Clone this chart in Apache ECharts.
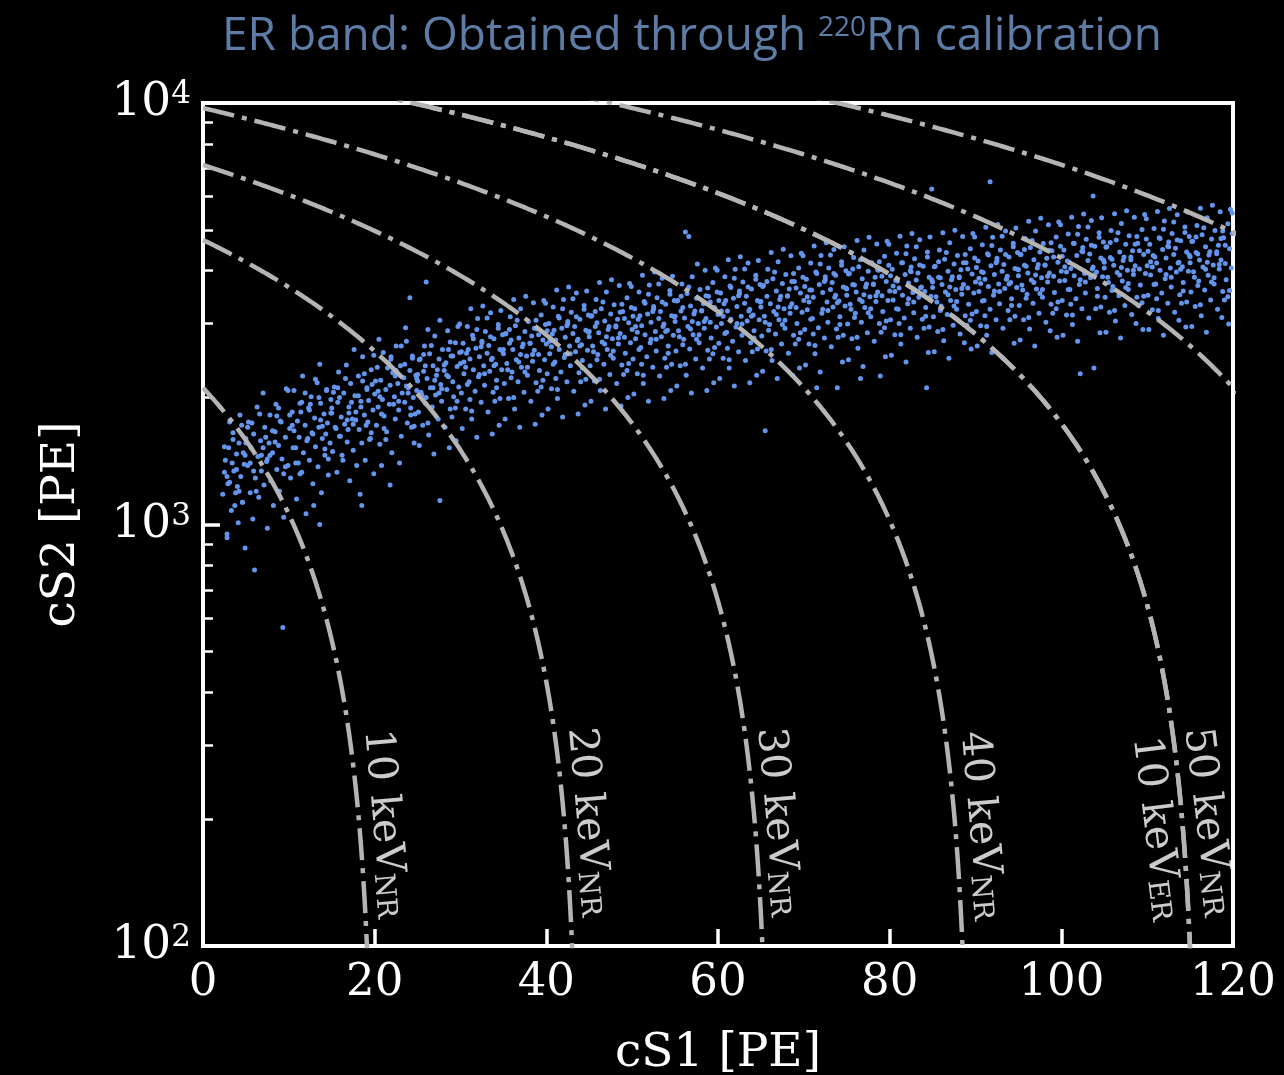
<!DOCTYPE html>
<html><head><meta charset="utf-8">
<script src="https://cdn.jsdelivr.net/npm/echarts@6/dist/echarts.min.js"></script>
<style>html,body{margin:0;padding:0;background:#000;} #chart{width:1284px;height:1075px;}</style>
</head><body><div id="chart"></div>
<script>
// ---------------- data ----------------
const xTicks = [0, 20, 40, 60, 80, 100, 120];
const yMajorTicks = [100, 1000, 10000];
const yMinorTicks = [200, 300, 400, 500, 600, 700, 800, 900, 2000, 3000, 4000, 5000, 6000, 7000, 8000, 9000];

// constant-energy contours: straight lines cS2 = s2Int * (1 - cS1 / s1Int)
const contourNames = ['10 keV NR', '20 keV NR', '30 keV NR', '40 keV NR', '50 keV NR', '10 keV ER', 'contour 7', 'contour 8'];
const contourS2Intercepts = [2110, 4732, 7130, 9731, 12667, 12667, 15169, 18114];
const contourS1Intercepts = [20.05, 43.93, 66.1, 89.4, 115.9, 115.9, 139.4, 165.0];

const contourLabelText = ['10 keV', '20 keV', '30 keV', '40 keV', '10 keV', '50 keV'];
const contourLabelSub = ['NR', 'NR', 'NR', 'NR', 'ER', 'NR'];
const contourLabelS1 = [21.1, 44.85, 66.9, 90.6, 111.0, 117.0];
const contourLabelS2 = [195, 197, 197, 193, 190, 197];

// ER band events (cS1 [PE], cS2 [PE])
const erBandA = [
[2.3,1180],[2.6,1420],[2.8,950],[3.0,1520],[3.1,1260],[3.3,1080],[3.5,1650],[3.6,1340],[3.8,1190],[3.9,1470],[4.1,1010],[4.2,1560],[4.4,1300],[4.5,1720],[4.6,1130],[4.8,1390],[4.9,880],[5.0,1600],[2.9,1250],[3.4,1400],[4.0,1230],[4.7,1480],[2.5,1330],[3.7,1110],[4.3,1820],[2.8,930],
[5.2,1380],[5.3,1750],[5.5,1190],[5.6,1520],[5.8,1030],[5.9,1640],[6.0,780],[6.1,1290],[6.3,1900],[6.4,1450],[6.5,1160],[6.7,1580],[6.8,1340],[7.0,2050],[7.1,1240],[7.2,1700],[7.4,1410],[7.5,980],[7.7,1560],[7.8,1820],[7.9,1270],[8.1,1480],[8.2,1110],[8.4,1660],[8.5,1930],[8.6,1350],[8.8,1540],[8.9,1200],[9.0,1760],[9.2,1430],[9.3,570],[9.4,1040],[9.6,1610],[9.7,2100],[9.9,1380],
[10.1,1690],[10.2,1290],[10.4,1850],[10.5,1520],[10.6,2080],[10.8,1400],[10.9,1150],[11.0,1760],[11.2,1610],[11.3,1940],[11.5,1330],[11.6,2250],[11.7,1480],[11.9,1720],[12.0,1060],[12.1,1580],[12.3,1890],[12.4,1420],[12.6,2010],[12.7,1650],[12.8,1250],[13.0,1790],[13.1,1530],[13.3,2170],[13.4,1370],[13.5,1700],[13.7,1940],[13.8,1190],[13.9,1600],[14.1,1830],[14.2,1460],[14.4,2080],[14.5,1740],[14.6,1310],[14.8,1560],[14.9,1980],[11.4,1850],[12.9,1110],[13.6,2400],[14.3,1640],[13.6,1000],
[15.0,1840],[15.1,1490],[15.3,2120],[15.4,1700],[15.6,1330],[15.7,1950],[15.8,2300],[16.0,1620],[16.1,1800],[16.3,1420],[16.4,2050],[16.5,1730],[16.7,2390],[16.8,1570],[17.0,1900],[17.1,1270],[17.2,2160],[17.4,1780],[17.5,1500],[17.7,2020],[17.8,1850],[17.9,1380],[18.1,2250],[18.2,1680],[18.4,1960],[18.5,1560],[18.6,2500],[18.8,1820],[18.9,1420],[19.1,2090],[19.2,1750],[19.3,1970],[19.5,1600],[19.6,2330],[19.8,1870],[19.9,1320],[15.9,2000],[16.9,1680],[17.6,2600],[18.3,1180],[19.0,1720],[19.7,2150],[18.5,1110],
[20.0,2040],[20.2,1720],[20.3,2360],[20.4,1900],[20.6,1550],[20.7,2200],[20.9,1980],[21.0,2560],[21.1,1810],[21.3,2090],[21.4,1660],[21.6,2420],[21.7,1930],[21.8,2140],[22.0,1480],[22.1,2290],[22.3,2010],[22.4,1780],[22.5,2650],[22.7,2160],[22.8,1870],[23.0,2380],[23.1,1620],[23.2,2050],[23.4,2230],[23.5,1950],[23.7,2720],[23.8,1740],[23.9,2110],[24.1,2320],[24.2,1890],[24.4,2480],[24.5,2000],[24.6,1560],[24.8,2260],[24.9,2080],[20.8,1380],[21.9,2500],[22.9,1400],[23.6,2930],[24.3,1700],[20.5,2750],[22.2,2300],[24.7,1830],[24.1,3450],[21.8,1240],
[25.0,2190],[25.1,1850],[25.3,2470],[25.4,2060],[25.6,1720],[25.7,2310],[25.8,2650],[26.0,2000],[26.1,2220],[26.3,1630],[26.4,2540],[26.5,2110],[26.7,1900],[26.8,2380],[27.0,2800],[27.1,2030],[27.2,2260],[27.4,1780],[27.5,2470],[27.7,2150],[27.8,1960],[27.9,2600],[28.1,2320],[28.2,1700],[28.4,2090],[28.5,2880],[28.6,2240],[28.8,1880],[28.9,2510],[29.1,2180],[29.2,2010],[29.4,2700],[29.5,1580],[29.6,2370],[29.8,2120],[29.9,2560],[25.2,1540],[26.2,2900],[26.9,1470],[27.6,3050],[28.3,2420],[29.0,1800],[29.7,2950],[25.9,2380],[28.7,1520],[26.0,3760],[27.6,1140],
[30.0,2410],[30.1,2050],[30.3,2690],[30.4,2280],[30.6,1880],[30.7,2550],[30.8,2950],[31.0,2180],[31.1,2470],[31.3,1780],[31.4,2810],[31.5,2330],[31.7,2070],[31.8,2620],[32.0,3080],[32.1,2240],[32.2,2500],[32.4,1950],[32.5,2720],[32.7,2380],[32.8,2140],[32.9,2870],[33.1,2550],[33.2,1850],[33.4,2310],[33.5,3180],[33.6,2460],[33.8,2060],[33.9,2760],[34.1,2400],[34.2,2200],[34.4,2980],[34.5,1720],[34.6,2600],[34.8,2330],[34.9,2820],[30.2,1690],[31.2,3250],[31.9,1610],[32.6,3300],[33.3,2660],[34.0,1960],[34.7,3220],[30.9,2600],[33.7,1640],
[35.0,2540],[35.1,2160],[35.3,2840],[35.4,2410],[35.6,1990],[35.7,2690],[35.8,3110],[36.0,2300],[36.1,2600],[36.3,1880],[36.4,2960],[36.5,2460],[36.7,2180],[36.8,2770],[37.0,3250],[37.1,2360],[37.2,2640],[37.4,2060],[37.5,2870],[37.7,2510],[37.8,2260],[37.9,3030],[38.1,2690],[38.2,1960],[38.4,2440],[38.5,3360],[38.6,2590],[38.8,2170],[38.9,2910],[39.1,2530],[39.2,2320],[39.4,3140],[39.5,1820],[39.6,2740],[39.8,2460],[39.9,2980],[35.2,1780],[36.2,3420],[36.9,1700],[37.6,3480],[38.3,2800],[39.0,2070],[39.7,3400],[35.9,2740],[38.7,1730],
[40.0,2680],[40.1,2280],[40.3,3000],[40.4,2540],[40.6,2100],[40.7,2830],[40.8,3280],[41.0,2430],[41.1,2740],[41.3,1990],[41.4,3120],[41.5,2600],[41.7,2300],[41.8,2920],[42.0,3420],[42.1,2490],[42.2,2780],[42.4,2180],[42.5,3030],[42.7,2650],[42.8,2380],[42.9,3190],[43.1,2840],[43.2,2070],[43.4,2570],[43.5,3540],[43.6,2730],[43.8,2290],[43.9,3070],[44.1,2670],[44.2,2450],[44.4,3310],[44.5,1920],[44.6,2890],[44.8,2590],[44.9,3140],[40.2,1880],[41.2,3600],[41.9,1800],[42.6,3660],[43.3,2950],[44.0,2180],[44.7,3580],[40.9,2890],[43.7,1830],
[45.0,2790],[45.1,2380],[45.3,3130],[45.4,2650],[45.6,2190],[45.7,2950],[45.8,3420],[46.0,2530],[46.1,2850],[46.3,2080],[46.4,3250],[46.5,2710],[46.7,2400],[46.8,3040],[47.0,3560],[47.1,2600],[47.2,2900],[47.4,2270],[47.5,3160],[47.7,2760],[47.8,2480],[47.9,3320],[48.1,2960],[48.2,2160],[48.4,2680],[48.5,3690],[48.6,2840],[48.8,2390],[48.9,3200],[49.1,2780],[49.2,2550],[49.4,3450],[49.5,2000],[49.6,3010],[49.8,2700],[49.9,3270],[45.2,1960],[46.2,3750],[46.9,1880],[47.6,3810],[48.3,3070],[49.0,2270],[49.7,3730],[45.9,3010],[48.7,1910],
[50.0,2900],[50.1,2470],[50.3,3250],[50.4,2760],[50.6,2280],[50.7,3070],[50.8,3560],[51.0,2630],[51.1,2960],[51.3,2160],[51.4,3380],[51.5,2820],[51.7,2500],[51.8,3160],[52.0,3700],[52.1,2700],[52.2,3020],[52.4,2360],[52.5,3290],[52.7,2870],[52.8,2580],[52.9,3450],[53.1,3080],[53.2,2250],[53.4,2790],[53.5,3840],[53.6,2950],[53.8,2480],[53.9,3330],[54.1,2890],[54.2,2650],[54.4,3590],[54.5,2080],[54.6,3130],[54.8,2810],[54.9,3400],[50.2,2040],[51.2,3900],[51.9,1960],[52.6,3970],[53.3,3200],[54.0,2360],[54.7,3880],[50.9,3130],[53.7,1990],
[55.0,3030],[55.1,2580],[55.3,3400],[55.4,2880],[55.6,2380],[55.7,3210],[55.8,3720],[56.0,2750],[56.1,3090],[56.2,4940],[56.3,2260],[56.4,3530],[56.5,2950],[56.7,2610],[56.8,3300],[57.0,3870],[57.1,2820],[57.2,3160],[57.4,2470],[57.5,3440],[57.7,3000],[57.8,2700],[57.9,3610],[58.1,3220],[58.2,2350],[58.4,2920],[58.5,4010],[58.6,3080],[58.8,2590],[58.9,3480],[59.1,3020],[59.2,2770],[59.4,3750],[59.5,2170],[59.6,3270],[59.8,2940],[59.9,3560],[55.2,2130],[56.6,4820],[56.9,2050],[57.6,4150],[58.3,3340],[59.0,2470],[59.7,4060],[55.9,3270],[58.7,2080],
[60.0,3150],[60.1,2690],[60.3,3540],[60.4,3000],[60.6,2480],[60.7,3340],[60.8,3870],[61.0,2860],[61.1,3210],[61.3,2350],[61.4,3680],[61.5,3070],[61.7,2720],[61.8,3440],[62.0,4030],[62.1,2940],[62.2,3290],[62.4,2570],[62.5,3580],[62.7,3120],[62.8,2810],[62.9,3760],[63.1,3350],[63.2,2450],[63.4,3040],[63.5,4170],[63.6,3210],[63.8,2700],[63.9,3620],[64.1,3140],[64.2,2880],[64.4,3900],[64.5,2260],[64.6,3400],[64.8,3060],[64.9,3710],[60.2,2220],[61.2,4250],[61.9,2130],[62.6,4320],[63.3,3480],[64.0,2570],[64.7,4230],[60.9,3400],[63.7,2170],
[65.0,3280],[65.1,2800],[65.3,3690],[65.4,3120],[65.6,2580],[65.7,3480],[65.8,4030],[66.0,2980],[66.1,3340],[66.3,2450],[66.4,3830],[66.5,3200],[66.7,2830],[66.8,3580],[67.0,4200],[67.1,3060],[67.2,3420],[67.4,2680],[67.5,3730],[67.7,3250],[67.8,2920],[67.9,3920],[68.1,3490],[68.2,2550],[68.4,3170],[68.5,4340],[68.6,3340],[68.8,2810],[68.9,3770],[69.1,3270],[69.2,3000],[69.4,4060],[69.5,2350],[69.6,3540],[69.8,3190],[69.9,3860],[65.2,2310],[66.2,4420],[66.9,2220],[67.6,4500],[68.3,3620],[69.0,2680],[69.7,4400],[65.5,1670],[68.7,2260],
[70.0,3400],[70.1,2900],[70.3,3820],[70.4,3230],[70.6,2680],[70.7,3600],[70.8,4170],[71.0,3080],[71.1,3460],[71.3,2540],[71.4,3970],[71.5,2110],[71.7,2930],[71.8,3710],[72.0,4350],[72.1,3170],[72.2,3550],[72.4,2770],[72.5,3870],[72.7,3370],[72.8,3020],[72.9,4060],[73.1,3610],[73.2,2640],[73.4,3280],[73.5,4490],[73.6,3460],[73.8,2910],[73.9,2110],[74.1,3390],[74.2,3110],[74.4,4200],[74.5,2430],[74.6,3660],[74.8,3300],[74.9,4000],[70.2,2390],[71.2,4580],[71.9,2300],[72.6,4660],[73.3,3750],[74.0,2780],[74.7,4560],[70.9,3600],[73.7,3900],
[75.0,3500],[75.1,2990],[75.3,3940],[75.4,3330],[75.6,2760],[75.7,3710],[75.8,4300],[76.0,3170],[76.1,3560],[76.3,2620],[76.4,4090],[76.5,3420],[76.7,3020],[76.8,3830],[77.0,4480],[77.1,3270],[77.2,3660],[77.4,2850],[77.5,3990],[77.7,3470],[77.8,3110],[77.9,4180],[78.1,3720],[78.2,2720],[78.4,3380],[78.5,4630],[78.6,3560],[78.8,3000],[78.9,2250],[79.1,3490],[79.2,3200],[79.4,4330],[79.5,2500],[79.6,3770],[79.8,3400],[79.9,4120],[75.2,2460],[76.2,4720],[76.9,2370],[77.6,4800],[78.3,3860],[79.0,2860],[79.7,4700],[75.9,3700],[78.7,4010],[76.6,2220],
[80.0,3580],[80.1,3060],[80.3,4030],[80.4,3410],[80.6,2820],[80.7,3790],[80.8,4400],[81.0,3240],[81.1,3640],[81.3,2680],[81.4,4180],[81.5,3500],[81.7,3090],[81.8,3920],[82.0,4580],[82.1,3340],[82.2,3740],[82.4,2920],[82.5,4080],[82.7,3550],[82.8,3180],[82.9,4270],[83.1,3800],[83.2,2780],[83.4,3460],[83.5,4740],[83.6,3640],[83.8,3070],[83.9,4100],[84.1,3570],[84.2,3270],[84.4,4430],[84.5,2560],[84.6,3860],[84.8,3480],[84.9,6250],[80.2,2520],[81.2,4830],[81.9,2430],[82.6,4900],[83.3,3950],[84.0,2920],[84.7,4810],[80.9,3780],[84.3,2110],
[85.0,3650],[85.1,3110],[85.3,4100],[85.4,3470],[85.6,2870],[85.7,3860],[85.8,4480],[86.0,3300],[86.1,3710],[86.3,2730],[86.4,4260],[86.5,3560],[86.7,3150],[86.8,3990],[87.0,4660],[87.1,3400],[87.2,3810],[87.4,2970],[87.5,4150],[87.7,3610],[87.8,3240],[87.9,4350],[88.1,3870],[88.2,2830],[88.4,3520],[88.5,4820],[88.6,3710],[88.8,3130],[88.9,4180],[89.1,3640],[89.2,3330],[89.4,4510],[89.5,2610],[89.6,3930],[89.8,3540],[89.9,4290],[85.2,2570],[86.2,4920],[86.9,2480],[87.6,4990],[88.3,4020],[89.0,2970],[89.7,4900],[85.9,3850],[88.7,2700],
[90.0,3760],[90.1,3200],[90.3,4220],[90.4,3570],[90.6,2960],[90.7,3980],[90.8,4610],[91.0,3400],[91.1,3820],[91.3,2810],[91.4,4390],[91.5,3670],[91.7,3240],[91.8,4110],[92.0,4800],[92.1,3500],[92.2,3920],[92.4,3060],[92.5,4280],[92.7,3720],[92.8,3340],[92.9,4480],[93.1,3990],[93.2,2920],[93.4,3630],[93.5,4970],[93.6,3820],[93.8,3220],[93.9,4310],[94.1,3750],[94.2,3430],[94.4,4650],[94.5,2690],[94.6,4050],[94.8,3650],[94.9,4420],[90.2,2650],[91.2,5070],[91.7,6500],[91.9,2560],[92.6,5150],[93.3,4140],[94.0,3060],[94.7,5050],[90.9,3960],
[95.0,3890],[95.1,3310],[95.3,4370],[95.4,3700],[95.6,3060],[95.7,4120],[95.8,4770],[96.0,3520],[96.1,3950],[96.3,2910],[96.4,4540],[96.5,3800],[96.7,3350],[96.8,4250],[97.0,4970],[97.1,3620],[97.2,4060],[97.4,3170],[97.5,4430],[97.7,3850],[97.8,3460],[97.9,4640],[98.1,4130],[98.2,3020],[98.4,3760],[98.5,5140],[98.6,3950],[98.8,3330],[98.9,4460],[99.1,3880],[99.2,3550],[99.4,4810],[99.5,2780],[99.6,4190],[99.8,3780],[99.9,4570],[95.2,2740],[96.2,5240],[96.9,2650],[97.6,5330],[98.3,4280],[99.0,3170],[99.7,5220],[95.9,4100],[98.7,2880],
[100.0,3990],[100.1,3400],[100.3,4480],[100.4,3790],[100.6,3140],[100.7,4220],[100.8,4890],[101.0,3610],[101.1,4050],[101.3,2980],[101.4,4650],[101.5,3890],[101.7,3430],[101.8,4350],[102.0,5090],[102.1,3710],[102.2,2280],[102.4,3250],[102.5,4540],[102.7,3940],[102.8,3540],[102.9,4750],[103.1,4230],[103.2,3090],[103.4,3850],[103.5,5260],[103.6,4040],[103.7,6020],[103.9,4570],[104.1,3970],[104.2,3630],[104.4,4920],[104.5,2850],[104.6,4290],[104.8,3870],[104.9,4680],[100.2,2810],[101.2,5360],[101.9,2720],[102.6,5450],[103.3,4380],[104.0,3250],[104.7,5340],[100.9,4190],[103.8,2350],
[105.0,4060],[105.1,3460],[105.3,4560],[105.4,3860],[105.6,3190],[105.7,4300],[105.8,4980],[106.0,3670],[106.1,4120],[106.3,3040],[106.4,4730],[106.5,3960],[106.7,3490],[106.8,4430],[107.0,5180],[107.1,3780],[107.2,4230],[107.4,3310],[107.5,4620],[107.7,4010],[107.8,3610],[107.9,4840],[108.1,4310],[108.2,3150],[108.4,3920],[108.5,5360],[108.6,4110],[108.8,3460],[108.9,4650],[109.1,4040],[109.2,3700],[109.4,5010],[109.5,2900],[109.6,4370],[109.8,3940],[109.9,4760],[105.2,2860],[106.2,5460],[106.9,2770],[107.6,5550],[108.3,4460],[109.0,3310],[109.7,5440],[105.9,4260],[108.7,3000],
[110.0,4110],[110.1,3500],[110.3,4620],[110.4,3910],[110.6,3230],[110.7,4350],[110.8,5040],[111.0,3720],[111.1,4170],[111.3,3080],[111.4,4790],[111.5,4010],[111.7,3540],[111.8,4490],[112.0,5250],[112.1,3830],[112.2,4290],[112.4,3350],[112.5,4680],[112.7,4060],[112.8,3660],[112.9,4900],[113.1,4370],[113.2,3190],[113.4,3970],[113.5,5430],[113.6,4170],[113.8,3510],[113.9,4710],[114.1,4090],[114.2,3750],[114.4,5080],[114.5,2940],[114.6,4430],[114.8,3990],[114.9,4820],[110.2,2900],[111.2,5530],[111.9,2810],[112.6,5620],[113.3,4520],[114.0,3350],[114.7,5510],[110.9,4310],[113.7,3050],
[115.0,4180],[115.1,3560],[115.3,4700],[115.4,3980],[115.6,3290],[115.7,4420],[115.8,5120],[116.0,3780],[116.1,4240],[116.3,3130],[116.4,4870],[116.5,4080],[116.7,3600],[116.8,4560],[117.0,5340],[117.1,3900],[117.2,4360],[117.4,3410],[117.5,4760],[117.7,4130],[117.8,3720],[117.9,4980],[118.1,4440],[118.2,3240],[118.4,4040],[118.5,5520],[118.6,4240],[118.8,3570],[118.9,4790],[119.1,4160],[119.2,3810],[119.4,5170],[119.5,2990],[119.6,4510],[119.8,4060],[119.9,4900],[115.2,2950],[116.2,5630],[116.9,2860],[117.6,5720],[118.3,4600],[119.0,3410],[119.7,5600],[115.9,4380],[118.7,3100]
];
const erBandB = [
[2.8,1300],[3.5,1590],[4.2,1200],[4.9,1460],[3.1,1750],[3.9,1350],[4.6,1130],[2.5,1530],
[5.2,1700],[5.9,1340],[7.0,1520],[6.6,1830],[5.5,1400],[7.3,1610],[6.2,1200],[5.7,1740],[6.8,1460],[5.0,1560],
[7.5,1430],[8.1,1670],[8.8,1890],[9.6,1370],[9.1,1750],[8.4,1570],[9.9,2080],[7.8,1460],[8.6,1810],[9.4,1320],
[10.1,1820],[10.8,1520],[11.5,1950],[12.2,1600],[10.4,1720],[11.1,1400],[11.9,2050],[10.6,1670],[12.4,1870],[11.3,1320],
[12.8,1640],[13.5,2000],[14.2,1510],[14.9,1840],[13.1,2210],[13.9,1710],[14.6,1430],[12.5,1930],[13.7,1770],[14.4,2090],
[15.2,2060],[15.9,1620],[17.0,1840],[16.6,2220],[15.5,1690],[17.3,1950],[16.2,1460],[15.7,2110],[16.8,1770],[15.0,1890],
[17.5,1730],[18.1,2020],[18.8,2280],[19.6,1650],[19.1,2110],[18.4,1900],[19.9,2520],[17.8,1770],[18.6,2190],[19.4,1590],
[20.1,2190],[20.8,1830],[21.5,2350],[22.2,1930],[20.4,2070],[21.1,1690],[21.9,2470],[20.6,2010],[22.4,2250],[21.3,1590],
[22.8,1960],[23.5,2400],[24.2,1820],[24.9,2220],[23.1,2650],[23.9,2050],[24.6,1710],[22.5,2320],[23.7,2130],[24.4,2510],
[25.2,2460],[25.9,1940],[27.0,2200],[26.6,2660],[25.5,2030],[27.3,2330],[26.2,1740],[25.7,2530],[26.8,2110],[25.0,2270],
[27.5,2050],[28.1,2390],[28.8,2710],[29.6,1960],[29.1,2510],[28.4,2260],[29.9,2990],[27.8,2100],[28.6,2600],[29.4,1890],
[30.1,2570],[30.8,2150],[31.5,2760],[32.2,2270],[30.4,2430],[31.1,1980],[31.9,2900],[30.6,2360],[32.4,2640],[31.3,1860],
[32.8,2280],[33.5,2790],[34.2,2110],[34.9,2580],[33.1,3090],[33.9,2380],[34.6,1990],[32.5,2700],[33.7,2480],[34.4,2920],
[35.2,2830],[35.9,2230],[37.0,2530],[36.6,3050],[35.5,2330],[37.3,2680],[36.2,2000],[35.7,2900],[36.8,2430],[35.0,2600],
[37.5,2300],[38.1,2690],[38.8,3050],[39.6,2200],[39.1,2820],[38.4,2530],[39.9,3350],[37.8,2360],[38.6,2920],[39.4,2120],
[40.1,2880],[40.8,2400],[41.5,3090],[42.2,2530],[40.4,2720],[41.1,2220],[41.9,3250],[40.6,2640],[42.4,2960],[41.3,2090],
[42.8,2540],[43.5,3110],[44.2,2350],[44.9,2860],[43.1,3430],[43.9,2650],[44.6,2210],[42.5,3000],[43.7,2750],[44.4,3240],
[45.2,3120],[45.9,2460],[47.0,2790],[46.6,3370],[45.5,2570],[47.3,2950],[46.2,2210],[45.7,3200],[46.8,2680],[45.0,2870],
[47.5,2520],[48.1,2940],[48.8,3330],[49.6,2410],[49.1,3080],[48.4,2770],[49.9,3670],[47.8,2580],[48.6,3190],[49.4,2320],
[50.1,3120],[50.8,2600],[51.5,3350],[52.2,2750],[50.4,2950],[51.1,2400],[51.9,3520],[50.6,2860],[52.4,3200],[51.3,2260],
[52.8,2750],[53.5,3370],[54.2,2550],[54.9,3110],[53.1,3720],[53.9,2870],[54.6,2400],[52.5,3250],[53.7,2990],[54.4,3520],
[55.2,3390],[55.9,2670],[57.0,3030],[56.6,3660],[55.5,2790],[57.3,3210],[56.2,2400],[55.7,3480],[56.8,2910],[55.0,3120],
[57.5,2750],[58.1,3210],[58.8,3640],[59.6,2630],[59.1,3370],[58.4,3030],[59.9,4010],[57.8,2820],[58.6,3490],[59.4,2540],
[60.1,3400],[60.8,2840],[61.5,3650],[62.2,3000],[60.4,3210],[61.1,2620],[61.9,3840],[60.6,3120],[62.4,3490],[61.3,2460],
[62.8,2990],[63.5,3660],[64.2,2770],[64.9,3370],[63.1,4040],[63.9,3120],[64.6,2610],[62.5,3530],[63.7,3240],[64.4,3820],
[65.2,3670],[65.9,2890],[67.0,3280],[66.6,3970],[65.5,3020],[67.3,3480],[66.2,2600],[65.7,3770],[66.8,3150],[65.0,3380],
[67.5,2980],[68.1,3480],[68.8,3940],[69.6,2850],[69.1,3640],[68.4,3280],[69.9,4340],[67.8,3050],[68.6,3770],[69.4,2750],
[70.1,3670],[70.8,3070],[71.5,3940],[72.2,3240],[70.4,3470],[71.1,2830],[71.9,4150],[70.6,3370],[72.4,3770],[71.3,2660],
[72.8,3220],[73.5,3940],[74.2,2980],[74.9,3640],[73.1,4360],[73.9,3360],[74.6,2810],[72.5,3810],[73.7,3500],[74.4,4120],
[75.2,3930],[75.9,3100],[77.0,3510],[76.6,4250],[75.5,3240],[77.3,3720],[76.2,2780],[75.7,4040],[76.8,3380],[75.0,3620],
[77.5,3180],[78.1,3710],[78.8,4200],[79.6,3040],[79.1,3880],[78.4,3490],[79.9,4620],[77.8,3250],[78.6,4020],[79.4,2930],
[80.1,3890],[80.8,3250],[81.5,4180],[82.2,3430],[80.4,3680],[81.1,3000],[81.9,4390],[80.6,3570],[82.4,4000],[81.3,2820],
[82.8,3370],[83.5,4130],[84.2,3120],[84.9,3810],[83.1,4560],[83.9,3520],[84.6,2940],[82.5,3980],[83.7,3660],[84.4,4310],
[85.2,4090],[85.9,3220],[87.0,3660],[86.6,4420],[85.5,3370],[87.3,3870],[86.2,2900],[85.7,4200],[86.8,3510],[85.0,3760],
[87.5,3300],[88.1,3850],[88.8,4370],[89.6,3160],[89.1,4040],[88.4,3630],[89.9,4810],[87.8,3380],[88.6,4180],[89.4,3050],
[90.1,4070],[90.8,3390],[91.5,4360],[92.2,3580],[90.4,3840],[91.1,3130],[91.9,4590],[90.6,3730],[92.4,4180],[91.3,2950],
[92.8,3570],[93.5,4370],[94.2,3310],[94.9,4030],[93.1,4830],[93.9,3720],[94.6,3120],[92.5,4220],[93.7,3880],[94.4,4560],
[95.2,4370],[95.9,3440],[97.0,3910],[96.6,4720],[95.5,3600],[97.3,4140],[96.2,3100],[95.7,4490],[96.8,3750],[95.0,4020],
[97.5,3530],[98.1,4120],[98.8,4660],[99.6,3370],[99.1,4310],[98.4,3880],[99.9,5140],[97.8,3610],[98.6,4470],[99.4,3250],
[100.1,4330],[100.8,3610],[101.5,4640],[102.2,3810],[100.4,4090],[101.1,3330],[101.9,4880],[100.6,3970],[102.4,4450],[101.3,3140],
[102.8,3760],[103.5,4600],[104.2,3480],[104.9,4240],[103.1,5080],[103.9,3920],[104.6,3280],[102.5,4440],[103.7,4080],[104.4,4800],
[105.2,4550],[105.9,3590],[107.0,4070],[106.6,4920],[105.5,3750],[107.3,4310],[106.2,3220],[105.7,4670],[106.8,3910],[105.0,4190],
[107.5,3650],[108.1,4250],[108.8,4820],[109.6,3480],[109.1,4460],[108.4,4010],[109.9,5310],[107.8,3730],[108.6,4620],[109.4,3360],
[110.1,4450],[110.8,3710],[111.5,4770],[112.2,3920],[110.4,4200],[111.1,3430],[111.9,5020],[110.6,4080],[112.4,4570],[111.3,3220],
[112.8,3860],[113.5,4730],[114.2,3580],[114.9,4360],[113.1,5220],[113.9,4030],[114.6,3370],[112.5,4560],[113.7,4190],[114.4,4930],
[115.2,4690],[115.9,3690],[117.0,4190],[116.6,5060],[115.5,3860],[117.3,4440],[116.2,3320],[115.7,4810],[116.8,4030],[115.0,4320],
[117.5,3760],[118.1,4390],[118.8,4970],[119.6,3590],[119.1,4600],[118.4,4140],[119.9,5480],[117.8,3850],[118.6,4770],[119.4,3470]
];

// ---------------- chart ----------------
const SERIF = "'DejaVu Serif', serif";
const LINE_GRAY = '#b4b4b4';

function contourLine(s2Int, s1Int) {
  const pts = [];
  const s2Lo = 95;
  const s1End = Math.min(121, s1Int * (1 - s2Lo / s2Int));
  const n = 300;
  for (let i = 0; i <= n; i++) {
    const s1 = s1End * i / n;
    pts.push([s1, s2Int * (1 - s1 / s1Int)]);
  }
  const lTop = Math.log10(Math.min(s2Int, 12000)), lBot = Math.log10(s2Lo);
  for (let j = 0; j <= 200; j++) {
    const s2 = Math.pow(10, lBot + (lTop - lBot) * j / 200);
    const s1 = s1Int * (1 - s2 / s2Int);
    if (s1 >= 0 && s1 <= s1End) pts.push([s1, s2]);
  }
  pts.sort((p, q) => p[0] - q[0]);
  return pts;
}

const contourSeries = contourNames.map((nm, i) => ({
  name: nm,
  type: 'line',
  data: contourLine(contourS2Intercepts[i], contourS1Intercepts[i]),
  showSymbol: false,
  symbol: 'none',
  clip: true,
  silent: true,
  z: 3,
  lineStyle: { color: LINE_GRAY, width: 4.5, type: [32, 8, 5, 8], cap: 'butt' }
}));

const labelRot = [-85, -85, -85, -85, -83, -83];
const labelSeries = {
  type: 'scatter',
  silent: true,
  z: 5,
  symbolSize: 1,
  itemStyle: { color: 'rgba(0,0,0,0)' },
  data: contourLabelText.map((t, i) => ({
    value: [contourLabelS1[i], contourLabelS2[i]],
    label: {
      show: true,
      position: 'inside',
      rotate: labelRot[i],
      formatter: '{n|' + t + '}{s|' + contourLabelSub[i] + '}'
    }
  })),
  label: {
    show: true,
    rich: {
      n: { fontFamily: SERIF, fontSize: 41, color: '#ffffff' },
      s: { fontFamily: SERIF, fontSize: 28, color: '#ffffff', verticalAlign: 'bottom' }
    }
  }
};

const scatterStyle = { color: '#6495ED', opacity: 1 };

const chart = echarts.init(document.getElementById('chart'), null, { renderer: 'canvas' });
chart.setOption({
  backgroundColor: '#000000',
  animation: false,
  title: {
    text: 'ER band: Obtained through {sup|220}Rn calibration',
    left: 217,
    top: 9,
    textStyle: {
      fontFamily: "'Open Sans', sans-serif",
      fontWeight: 'normal',
      fontSize: 46,
      color: '#5d7ca6',
      rich: {
        sup: { fontFamily: "'Open Sans', sans-serif", fontSize: 28, color: '#5d7ca6', verticalAlign: 'top' }
      }
    }
  },
  grid: {
    left: 203, right: 51, top: 103, bottom: 129,
    show: true, borderColor: '#ffffff', borderWidth: 4,
    backgroundColor: 'transparent',
    outerBoundsMode: 'none'
  },
  xAxis: {
    type: 'value', min: 0, max: 120, interval: 20,
    name: 'cS1 [PE]', nameLocation: 'middle', nameGap: 84,
    nameTextStyle: { fontFamily: SERIF, fontSize: 47, color: '#ffffff' },
    axisLine: { show: false },
    splitLine: { show: false },
    axisTick: { show: true, inside: true, length: 17, lineStyle: { color: '#ffffff', width: 3.5 }, customValues: xTicks },
    axisLabel: { color: '#ffffff', fontFamily: SERIF, fontSize: 45, margin: 15, customValues: xTicks }
  },
  yAxis: [{
    type: 'log', logBase: 10, min: 100, max: 10000,
    name: 'cS2 [PE]', nameLocation: 'middle', nameGap: 118, nameRotate: 90,
    nameTextStyle: { fontFamily: SERIF, fontSize: 47, color: '#ffffff' },
    position: 'left',
    axisLine: { show: false },
    splitLine: { show: false },
    minorTick: { show: false },
    axisTick: { show: true, inside: true, length: 17, lineStyle: { color: '#ffffff', width: 3.5 }, customValues: yMajorTicks },
    axisLabel: {
      margin: 12, customValues: yMajorTicks,
      formatter: v => '{b|10}{e|' + Math.round(Math.log10(v)) + '}',
      rich: {
        b: { fontFamily: SERIF, fontSize: 47, color: '#ffffff' },
        e: { fontFamily: SERIF, fontSize: 31, color: '#ffffff', verticalAlign: 'top' }
      }
    }
  }, {
    type: 'log', logBase: 10, min: 100, max: 10000,
    position: 'left',
    axisLine: { show: false },
    splitLine: { show: false },
    axisLabel: { show: false },
    axisTick: { show: true, inside: true, length: 10, lineStyle: { color: '#ffffff', width: 2.5 }, customValues: yMinorTicks }
  }],
  series: [{
    name: 'ER band',
    type: 'scatter',
    data: erBandA,
    symbolSize: 5,
    z: 2,
    itemStyle: scatterStyle,
    silent: true
  }, {
    name: 'ER band (cont.)',
    type: 'scatter',
    data: erBandB,
    symbolSize: 5,
    z: 2,
    itemStyle: scatterStyle,
    silent: true
  }].concat(contourSeries).concat([labelSeries])
});
</script>
</body></html>
